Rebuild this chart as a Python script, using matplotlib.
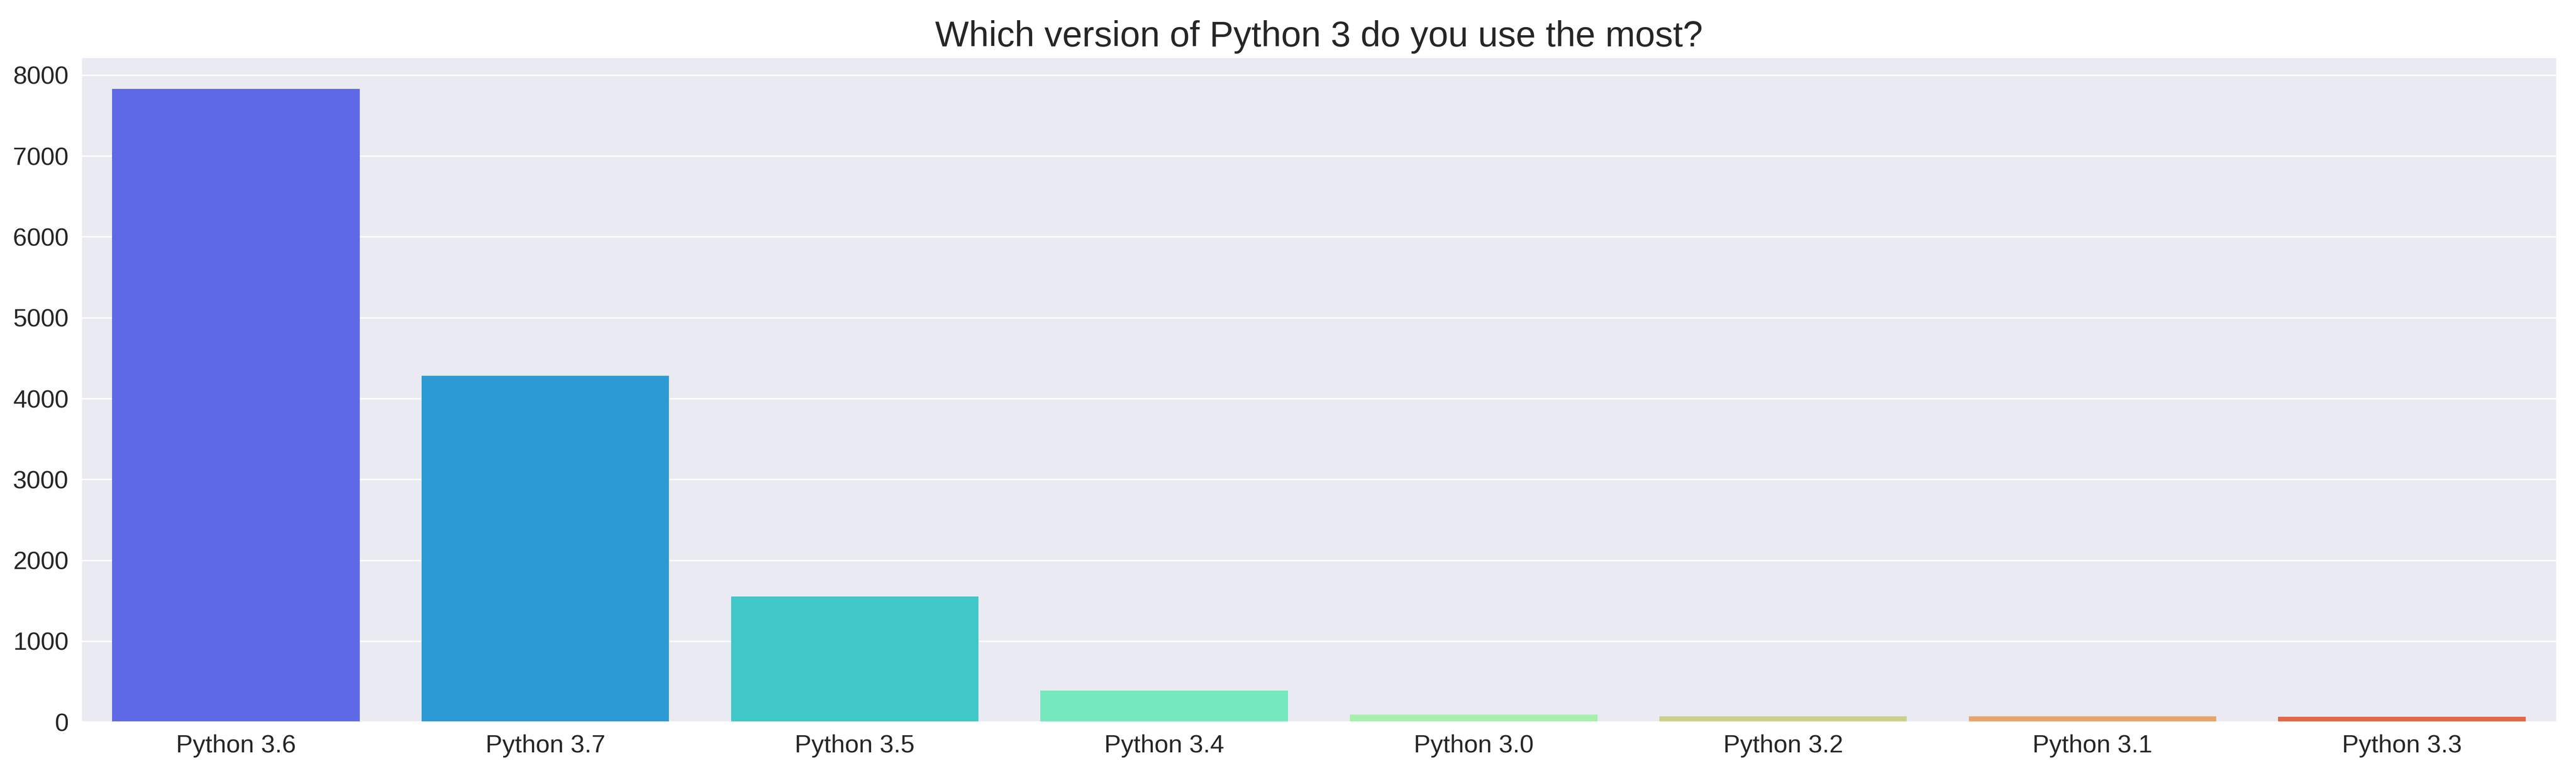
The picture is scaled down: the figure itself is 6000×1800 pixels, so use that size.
import matplotlib
matplotlib.use('Agg')
import matplotlib.pyplot as plt
import seaborn as sns

# survey answers: count per Python 3 version
versions = ['Python 3.6', 'Python 3.7', 'Python 3.5', 'Python 3.4',
            'Python 3.0', 'Python 3.2', 'Python 3.1', 'Python 3.3']
counts = [7830, 4280, 1550, 388, 90, 69, 69, 64]

sns.set_style('darkgrid')
plt.rcParams['font.family'] = ['Liberation Sans', 'DejaVu Sans']

fig, ax = plt.subplots(figsize=(20, 6), dpi=300)
sns.barplot(x=versions, y=counts, hue=versions, palette='rainbow',
            legend=False, linewidth=0, ax=ax)
ax.set_title('Which version of Python 3 do you use the most?', fontsize=20)
ax.tick_params(labelsize=14)
ax.set_xlabel('')
ax.set_ylabel('')

plt.subplots_adjust(left=0.0315, right=0.9925, top=0.926, bottom=0.066)
plt.savefig('out.png', dpi=300)
plt.close()
